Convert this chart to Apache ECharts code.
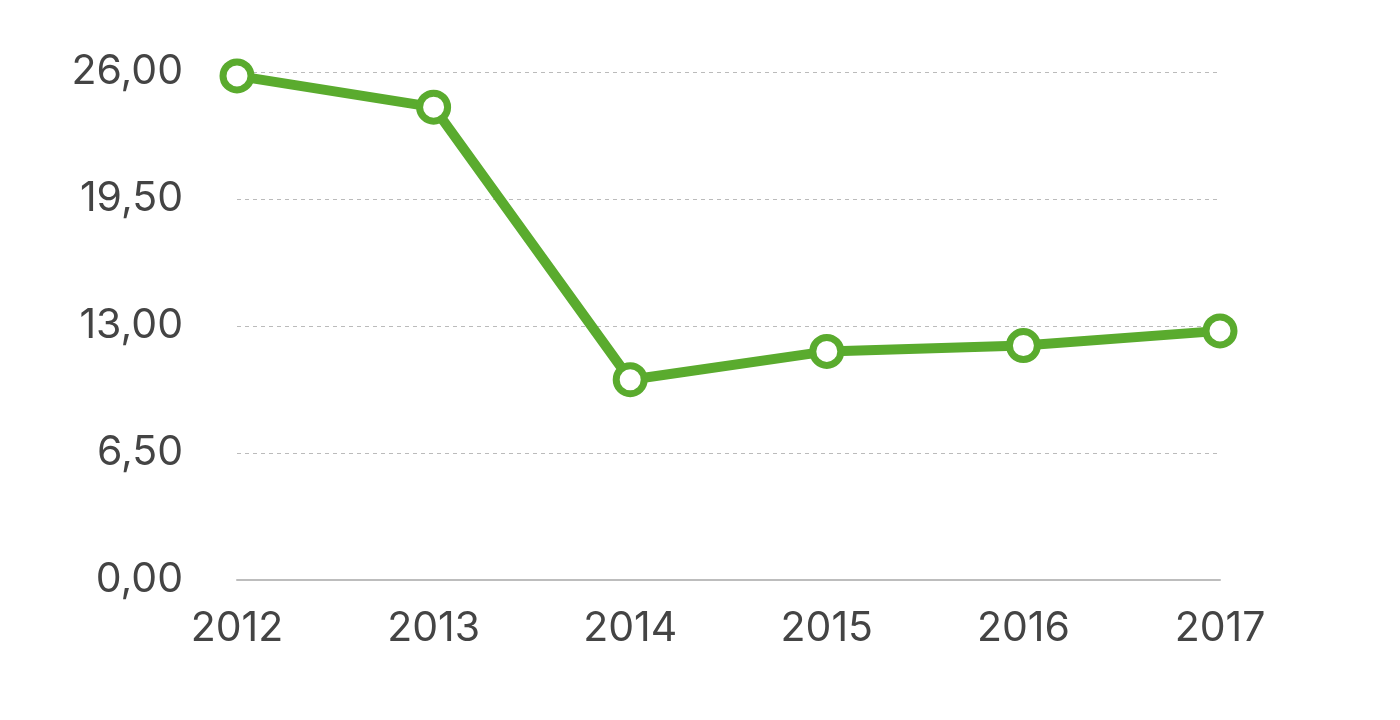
<!DOCTYPE html>
<html>
<head>
<meta charset="utf-8">
<script src="https://cdn.jsdelivr.net/npm/echarts@6/dist/echarts.min.js"></script>
<style>
  html, body { margin: 0; padding: 0; background: #fff; }
  #main { width: 1400px; height: 720px; }
</style>
</head>
<body>
<div id="main"></div>
<script>
const years = ['2012', '2013', '2014', '2015', '2016', '2017'];
const values = [25.8, 24.2, 10.25, 11.7, 12.0, 12.75];
const yTicks = [0, 6.5, 13, 19.5, 26];

const myChart = echarts.init(document.getElementById('main'));
myChart.setOption({
  animation: false,
  grid: { left: 237, right: 180, top: 72, bottom: 140 },
  xAxis: {
    type: 'category',
    data: years,
    boundaryGap: false,
    axisLine: { show: true, lineStyle: { color: '#bdbdbd', width: 2 } },
    axisTick: { show: false },
    axisLabel: {
      color: '#444',
      fontSize: 41,
      fontFamily: 'Inter',
      margin: 28
    }
  },
  yAxis: {
    type: 'value',
    min: yTicks[0],
    max: yTicks[yTicks.length - 1],
    interval: 6.5,
    axisLine: { show: false },
    axisTick: { show: false },
    splitLine: {
      show: true,
      lineStyle: { color: '#bbbbbb', type: [4, 4], width: 1 }
    },
    axisLabel: {
      color: '#444',
      fontSize: 41,
      fontFamily: 'Inter',
      margin: 54,
      formatter: (v) => v.toFixed(2).replace('.', ',')
    }
  },
  series: [{
    type: 'line',
    data: values,
    symbol: 'circle',
    symbolSize: 28,
    showAllSymbol: true,
    lineStyle: { color: '#5aab2e', width: 10 },
    itemStyle: { color: '#fff', borderColor: '#5aab2e', borderWidth: 7 },
    z: 3
  }]
});
</script>
</body>
</html>
